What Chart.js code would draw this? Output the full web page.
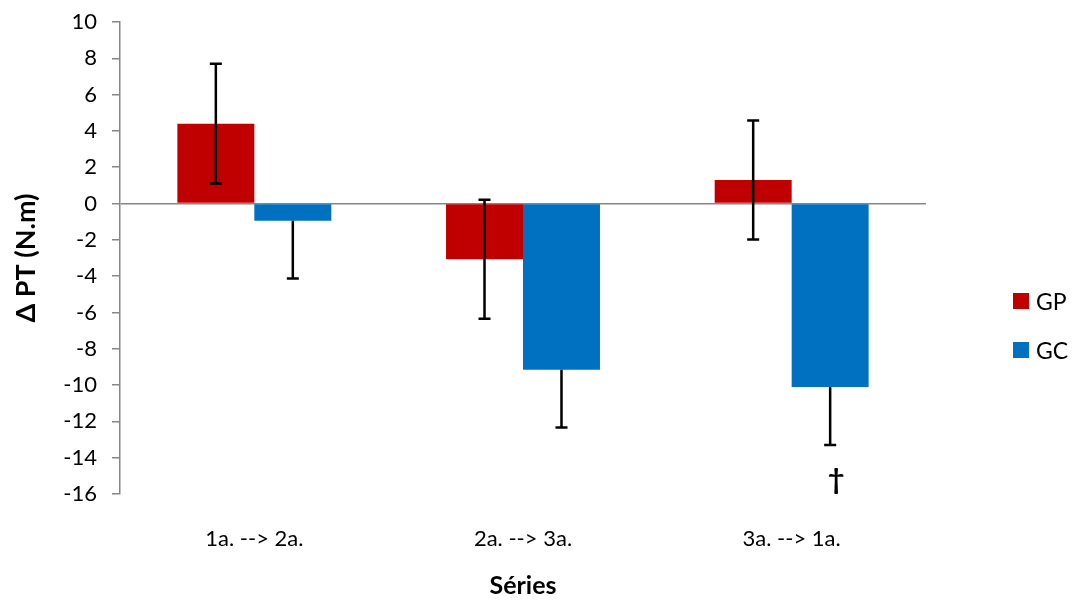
<!DOCTYPE html>
<html>
<head>
<meta charset="utf-8">
<script src="https://cdn.jsdelivr.net/npm/chart.js@4/dist/chart.umd.min.js"></script>
<style>
  body { margin: 0; background: #fff; }
  #wrap { position: relative; width: 1074px; height: 604px; }
  #legend { position: absolute; left: 1013px; top: 289px; font-family: Lato, sans-serif; font-size: 23px; color: #000; }
  #legend .item { display: flex; align-items: center; height: 24px; margin-bottom: 25px; }
  #legend .box { width: 16px; height: 16px; margin-right: 7px; }
</style>
</head>
<body>
<div id="wrap">
  <canvas id="chart" width="1074" height="604"></canvas>
  <div id="legend"></div>
</div>
<script>
// data
var categories = ['1a. --> 2a.', '2a. --> 3a.', '3a. --> 1a.'];
var seriesNames = ['GP', 'GC'];
var gpValues = [4.4, -3.07, 1.3];
var gcValues = [-0.95, -9.15, -10.1];
var gpErr = [3.3, 3.28, 3.28];
var gcErr = [3.18, 3.18, 3.2];
var gcMarks = ['', '', '\u2020'];
var yTicks = [-16, -14, -12, -10, -8, -6, -4, -2, 0, 2, 4, 6, 8, 10];

var colors = ['#C00000', '#0070C0'];
var axisGrey = '#868686';

// error bars: GP both ways, GC only downward
var errorBars = {
  id: 'errorBars',
  afterDatasetsDraw: function (chart) {
    var ctx = chart.ctx;
    var y = chart.scales.y;
    var sets = [
      { meta: chart.getDatasetMeta(0), vals: gpValues, err: gpErr, up: true },
      { meta: chart.getDatasetMeta(1), vals: gcValues, err: gcErr, up: false }
    ];
    ctx.save();
    ctx.strokeStyle = '#000';
    ctx.lineWidth = 2.5;
    sets.forEach(function (s) {
      s.meta.data.forEach(function (bar, i) {
        var yTop = y.getPixelForValue(s.up ? s.vals[i] + s.err[i] : s.vals[i]);
        var yBot = y.getPixelForValue(s.vals[i] - s.err[i]);
        ctx.beginPath();
        ctx.moveTo(bar.x, yTop);
        ctx.lineTo(bar.x, yBot);
        ctx.moveTo(bar.x - 6, yBot);
        ctx.lineTo(bar.x + 6, yBot);
        if (s.up) {
          ctx.moveTo(bar.x - 6, yTop);
          ctx.lineTo(bar.x + 6, yTop);
        }
        ctx.stroke();
      });
    });
    // significance mark under GC bars
    ctx.fillStyle = '#000';
    ctx.font = 'bold 29px Lato';
    ctx.textAlign = 'center';
    ctx.textBaseline = 'middle';
    chart.getDatasetMeta(1).data.forEach(function (bar, i) {
      if (!gcMarks[i]) return;
      var yb = y.getPixelForValue(gcValues[i] - gcErr[i]);
      ctx.fillText(gcMarks[i], bar.x + 6, yb + 35);
    });
    ctx.restore();
  }
};

var chart = new Chart(document.getElementById('chart'), {
  type: 'bar',
  data: {
    labels: categories,
    datasets: [
      { label: seriesNames[0], data: gpValues, backgroundColor: colors[0] },
      { label: seriesNames[1], data: gcValues, backgroundColor: colors[1] }
    ]
  },
  options: {
    responsive: false,
    animation: false,
    layout: { padding: { left: 10, top: 22, right: 148, bottom: 0 } },
    datasets: { bar: { categoryPercentage: 0.573, barPercentage: 1.0 } },
    plugins: {
      legend: { display: false },
      tooltip: { enabled: false }
    },
    scales: {
      x: {
        grid: { display: false },
        border: { display: false },
        ticks: { color: '#000', font: { family: 'Lato', size: 22 }, padding: 24, maxRotation: 0 },
        title: { display: true, text: 'Séries', color: '#000', font: { family: 'Lato', size: 25, weight: 'bold' }, padding: { top: 0, bottom: 3 } },
        afterFit: function (scale) { scale.height = 110; }
      },
      y: {
        min: -16,
        max: 10,
        afterBuildTicks: function (scale) {
          scale.ticks = yTicks.map(function (v) { return { value: v }; });
        },
        grid: {
          drawOnChartArea: true,
          color: function (c) { return c.tick && c.tick.value === 0 ? axisGrey : 'rgba(0,0,0,0)'; },
          tickColor: axisGrey,
          tickLength: 8,
          lineWidth: 1.5
        },
        border: { color: axisGrey, width: 1.5 },
        ticks: { color: '#000', font: { family: 'Lato', size: 22 }, padding: 15 },
        title: { display: true, text: 'Δ PT (N.m)', color: '#000', font: { family: 'Lato', size: 27, weight: 'bold' }, padding: { top: 0, bottom: 0 } },
        afterFit: function (scale) {
          scale.width = 110;
          scale.paddingTop = 0;
          scale.paddingBottom = 0;
        }
      }
    }
  },
  plugins: [errorBars]
});

// legend as html
var legend = document.getElementById('legend');
seriesNames.forEach(function (name, i) {
  var item = document.createElement('div');
  item.className = 'item';
  var box = document.createElement('span');
  box.className = 'box';
  box.style.background = colors[i];
  var txt = document.createElement('span');
  txt.textContent = name;
  item.appendChild(box);
  item.appendChild(txt);
  legend.appendChild(item);
});
</script>
</body>
</html>
